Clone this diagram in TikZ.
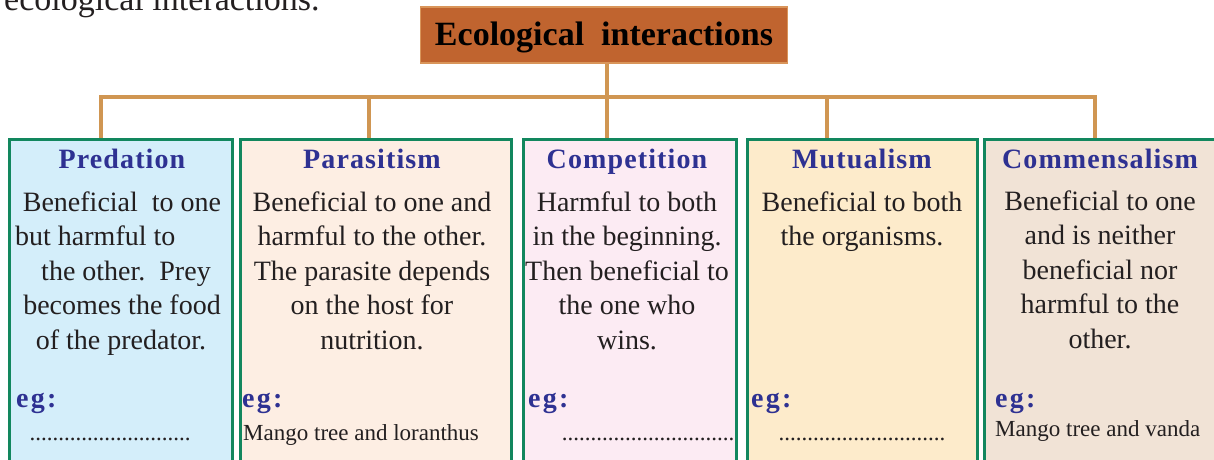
\documentclass[tikz,border=0pt]{standalone}
\usepackage{fontspec}
\setmainfont{Liberation Serif}
\newfontfamily\headfont[LetterSpace=4]{Liberation Serif}
\newfontfamily\egfont[LetterSpace=8]{Liberation Serif}
\usetikzlibrary{calc}
\definecolor{conncol}{HTML}{D09652}
\definecolor{titlefill}{HTML}{C0642F}
\definecolor{titleedge}{HTML}{D9955A}
\definecolor{boxedge}{HTML}{12875E}
\definecolor{headblue}{HTML}{2E3192}
\definecolor{ink}{HTML}{231F20}
\definecolor{fa}{HTML}{D4EEFA}
\definecolor{fb}{HTML}{FDEEE3}
\definecolor{fc}{HTML}{FCEBF3}
\definecolor{fd}{HTML}{FDEBCB}
\definecolor{fe}{HTML}{F1E3D6}
\begin{document}
\begin{tikzpicture}[x=1pt,y=-1pt,
  conn/.style={draw=conncol,line width=4.5pt},
  card/.style={draw=boxedge,line width=2.6pt,anchor=north west,minimum height=345pt,inner sep=0pt},
  head/.style={anchor=base,text=headblue,font=\fontsize{28}{32}\headfont\bfseries,inner sep=0pt},
  body/.style={anchor=base,text=ink,font=\fontsize{28}{34}\selectfont,inner sep=0pt},
  eglabel/.style={anchor=base west,text=headblue,font=\fontsize{28}{34}\egfont\bfseries,inner sep=0pt},
  example/.style={anchor=base west,text=ink,font=\fontsize{23}{28}\selectfont,inner sep=0pt},
  dots/.style={anchor=base,text=ink,font=\fontsize{23}{28}\selectfont,inner sep=0pt}]
\useasboundingbox (0,0) rectangle (1214,459);
\clip (0,0) rectangle (1214,459);

% clipped sentence at the top
\node[anchor=base west,text=ink,font=\fontsize{34}{40}\selectfont,inner sep=0pt] (intro) at (4,10) {ecological interactions.};

% title
\node[fill=titlefill,draw=titleedge,line width=1.5pt,minimum width=367pt,minimum height=56pt,
      text height=25pt,text depth=5pt,inner sep=0pt,font=\fontsize{34}{40}\selectfont\bfseries]
      (title) at (604,35) {Ecological\ \ interactions};

% boxes
\node[card,fill=fa,minimum width=223pt] (b1) at (8,138) {};
\node[card,fill=fb,minimum width=271pt] (b2) at (239,138) {};
\node[card,fill=fc,minimum width=213pt] (b3) at (522,138) {};
\node[card,fill=fd,minimum width=230pt] (b4) at (746,138) {};
\node[card,fill=fe,minimum width=240pt] (b5) at (983,138) {};

% connectors
\coordinate (j1) at (101,97);
\coordinate (j2) at (369,97);
\coordinate (j3) at (607,97);
\coordinate (j4) at (827,97);
\coordinate (j5) at (1095,97);
\draw[conn] (j1 |- b1.north) -- (j1) -- (j5) -- (j5 |- b5.north);
\draw[conn] (j3 |- title.south) -- (j3 |- b3.north);
\draw[conn] (j2) -- (j2 |- b2.north);
\draw[conn] (j4) -- (j4 |- b4.north);

% headings
\node[head] (h1) at (122,168) {Predation};
\node[head] (h2) at (372,168) {Parasitism};
\node[head] (h3) at (627,168) {Competition};
\node[head] (h4) at (862,168) {Mutualism};
\node[head] (h5) at (1100,168) {Commensalism};

% body texts
\node[body] (p1a) at (122,211) {Beneficial\ \ to one};
\node[body,anchor=base west] (p1b) at (15,245.5) {but harmful to};
\node[body] (p1c) at (126,280) {the\ other.\ \ Prey};
\node[body] (p1d) at (122,314.5) {becomes\ the\ food};
\node[body] (p1e) at (121,349) {of the predator.};

\foreach \t [count=\i] in {Beneficial to one and,harmful to the other.,The parasite depends,on the host for,nutrition.}
  \node[body] (p2-\i) at (372,211+34.5*\i-34.5) {\t};
\foreach \t [count=\i] in {Harmful to both,in the beginning.,Then beneficial to,the one who,wins.}
  \node[body] (p3-\i) at (627,211+34.5*\i-34.5) {\t};
\foreach \t [count=\i] in {Beneficial to both,the organisms.}
  \node[body] (p4-\i) at (862,211+34.5*\i-34.5) {\t};
\foreach \t [count=\i] in {Beneficial to one,and is neither,beneficial nor,harmful to the,other.}
  \node[body] (p5-\i) at (1100,210+34.5*\i-34.5) {\t};

% eg labels
\node[eglabel] (e1) at (16,407) {eg:};
\node[eglabel] (e2) at (242,407) {eg:};
\node[eglabel] (e3) at (528,407) {eg:};
\node[eglabel] (e4) at (751,407) {eg:};
\node[eglabel] (e5) at (995,407) {eg:};

% examples
\node[dots] (x1) at (110,440) {............................};
\node[example] (x2) at (243,440) {Mango tree and loranthus};
\node[dots] (x3) at (648,440) {..............................};
\node[dots] (x4) at (862,440) {.............................};
\node[example] (x5) at (995,436) {Mango tree and vanda};
\end{tikzpicture}
\end{document}
